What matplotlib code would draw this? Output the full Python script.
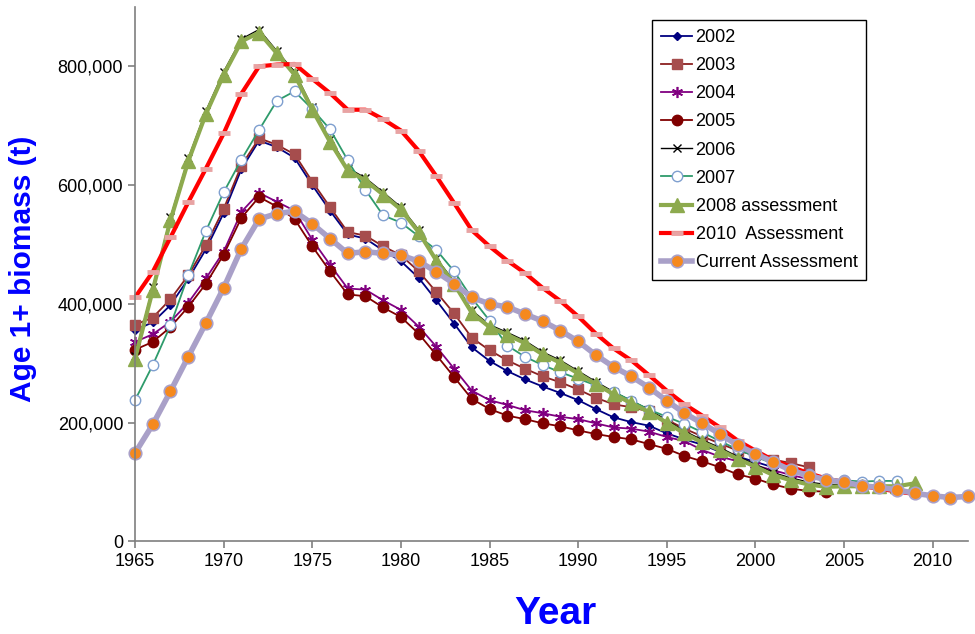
import matplotlib as mpl
mpl.use('Agg')
import matplotlib.pyplot as plt
from matplotlib.ticker import FuncFormatter, MultipleLocator

plt.rcParams['font.family'] = ['Liberation Sans', 'DejaVu Sans']

# age 1+ biomass (thousand t) by assessment year, each series starts in 1965
first_year = 1965

b2002 = [356, 369, 398, 442, 492, 553, 627, 675, 664, 646,
         600, 557, 517, 510, 490, 472, 444, 406, 367, 327,
         304, 287, 273, 261, 250, 238, 223, 209, 201, 195,
         182, 172, 163, 151, 143, 134, 125]
b2003 = [365, 377, 408, 448, 499, 560, 633, 679, 668, 652,
         606, 563, 521, 515, 497, 482, 455, 420, 384, 343,
         322, 305, 291, 278, 268, 256, 242, 231, 226, 219,
         205, 190, 177, 165, 153, 145, 138, 132, 125]
b2004 = [336, 349, 370, 402, 443, 488, 555, 587, 572, 557,
         508, 466, 426, 424, 406, 390, 362, 328, 291, 254,
         238, 230, 221, 216, 210, 206, 199, 192, 190, 185,
         176, 169, 154, 143, 135, 128, 120, 112, 105]
b2005 = [323, 336, 361, 395, 434, 483, 545, 580, 564, 543,
         497, 455, 416, 413, 394, 378, 350, 314, 277, 240,
         223, 212, 206, 199, 194, 187, 181, 176, 172, 164,
         156, 144, 135, 125, 113, 106, 96, 89, 85, 84]
b2006 = [313, 428, 546, 645, 725, 791, 846, 862, 826, 791,
         731, 678, 629, 612, 588, 563, 525, 477, 438, 389,
         365, 352, 338, 319, 305, 287, 269, 252, 237, 222,
         204, 186, 171, 158, 143, 130, 116, 107, 100, 96,
         96]
b2007 = [238, 297, 364, 448, 523, 588, 643, 693, 742, 758,
         728, 694, 642, 592, 549, 537, 514, 491, 455, 410,
         372, 330, 311, 297, 285, 274, 263, 252, 237, 222,
         210, 198, 184, 169, 155, 143, 131, 121, 113, 106,
         103, 101, 102, 102]
b2008 = [308, 423, 541, 640, 720, 786, 842, 857, 822, 786,
         727, 673, 625, 608, 584, 559, 521, 473, 434, 385,
         361, 348, 334, 315, 301, 283, 265, 248, 233, 218,
         200, 182, 167, 154, 139, 126, 112, 103, 96, 92,
         93, 93, 93, 93, 98]
b2010 = [411, 454, 512, 571, 628, 687, 754, 800, 803, 804,
         779, 755, 727, 727, 711, 692, 658, 615, 570, 524,
         497, 473, 452, 427, 405, 379, 350, 325, 305, 280,
         254, 231, 212, 192, 170, 153, 137, 126, 115, 106,
         100, 93, 89, 84, 80]
current = [149, 197, 253, 311, 368, 427, 493, 543, 552, 556,
           535, 510, 485, 488, 485, 482, 472, 454, 434, 411,
           400, 395, 383, 371, 355, 337, 314, 294, 278, 259,
           237, 216, 199, 181, 162, 148, 134, 120, 111, 104,
           100, 94, 91, 87, 81, 77, 74, 76]

labels = ['2002', '2003', '2004', '2005', '2006', '2007',
          '2008 assessment', '2010  Assessment', 'Current Assessment']
series = [b2002, b2003, b2004, b2005, b2006, b2007, b2008, b2010, current]

styles = [
    dict(color='#000080', lw=1.3, marker='D', ms=4.5, mfc='#000080', mec='#000080'),
    dict(color='#8B2020', lw=1.3, marker='s', ms=7.5, mfc='#A64D4D', mec='#A64D4D'),
    dict(color='#800080', lw=1.3, marker=(6, 2, 0), ms=8, mec='#800080', mew=1.2),
    dict(color='#800000', lw=1.3, marker='o', ms=7.5, mfc='#800000', mec='#800000'),
    dict(color='black', lw=1.0, marker='x', ms=6, mec='black', mew=1.0),
    dict(color='#2E9B6B', lw=1.3, marker='o', ms=7.5, mfc='white', mec='#7F9FCF', mew=1.0),
    dict(color='#8DAA4E', lw=3.0, marker='^', ms=10, mfc='#8DAA4E', mec='#8DAA4E'),
    dict(color='#FF0000', lw=3.0, marker='_', ms=8, mec='#E8A3A3', mew=3.5),
    dict(color='#A9A0C8', lw=4, marker='o', ms=9, mfc='#F5891E', mec='#A9A0C8', mew=1.2),
]

fig = plt.figure(figsize=(9.75, 6.34), dpi=100)
ax = fig.add_axes([0.1385, 0.1459, 0.8544, 0.8431])

for vals, lab, st in zip(series, labels, styles):
    yrs = list(range(first_year, first_year + len(vals)))
    ax.plot(yrs, [v * 1000 for v in vals], label=lab, clip_on=False, **st)

ax.set_xlim(1965, 2012)
ax.set_ylim(0, 900000)
ax.xaxis.set_major_locator(MultipleLocator(5))
ax.set_yticks([0, 200000, 400000, 600000, 800000])
ax.yaxis.set_major_formatter(FuncFormatter(lambda v, p: '{:,.0f}'.format(v)))

for side in ['top', 'right']:
    ax.spines[side].set_visible(False)
for side in ['left', 'bottom']:
    ax.spines[side].set_color('#7F7F7F')
    ax.spines[side].set_linewidth(1.2)
ax.tick_params(direction='out', length=5, width=1.2, color='#7F7F7F',
               labelsize=13, labelcolor='black')

fig.text(0.0241, 0.5757, 'Age 1+ biomass (t)', rotation=90, ha='center', va='center',
         fontsize=21.5, fontweight='bold', color='#0000FF')
fig.text(0.570, 0.0315, 'Year', ha='center', va='center',
         fontsize=28, fontweight='bold', color='#0000FF')

leg = ax.legend(loc='upper right', bbox_to_anchor=(0.878, 0.976), fontsize=13,
                frameon=True, fancybox=False, framealpha=1, edgecolor='black',
                handlelength=1.7, handletextpad=0.2, labelspacing=0.62,
                borderpad=0.5, borderaxespad=0, numpoints=1)
leg.get_frame().set_linewidth(1.0)

fig.savefig('out.png', dpi=100)
